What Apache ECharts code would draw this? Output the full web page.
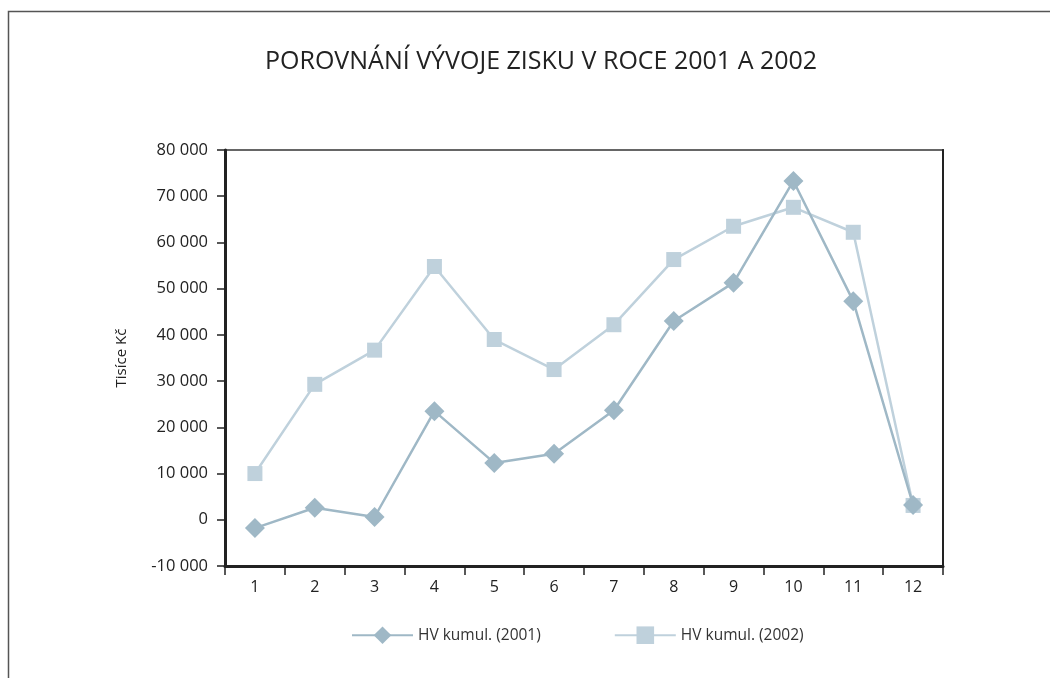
<!DOCTYPE html>
<html>
<head>
<meta charset="utf-8">
<script src="https://cdn.jsdelivr.net/npm/echarts@6/dist/echarts.min.js"></script>
<style>
  html, body { margin: 0; padding: 0; background: #fff; }
  #main { width: 1050px; height: 678px; }
</style>
</head>
<body>
<div id="main"></div>
<script>
// data
var months = ['1', '2', '3', '4', '5', '6', '7', '8', '9', '10', '11', '12'];
var hv2001 = [-1800, 2600, 600, 23500, 12300, 14300, 23700, 43000, 51300, 73300, 47300, 3200];
var hv2002 = [10000, 29300, 36700, 54800, 39000, 32500, 42200, 56300, 63500, 67600, 62200, 3100];
var yMin = -10000, yMax = 80000, yStep = 10000;

var font = '"Open Sans", Lato, sans-serif';

function fmt(v) {
  var s = String(Math.abs(v)).replace(/\B(?=(\d{3})+(?!\d))/g, ' ');
  return (v < 0 ? '-' : '') + s;
}

var chart = echarts.init(document.getElementById('main'));
var option = {
  backgroundColor: '#fff',
  animation: false,
  textStyle: { fontFamily: font },
  title: {
    text: 'POROVNÁNÍ VÝVOJE ZISKU V ROCE 2001 A 2002',
    left: 260,
    top: 44,
    textStyle: { fontFamily: font, fontSize: 25, fontWeight: 'normal', color: '#222' }
  },
  graphic: [{
    type: 'rect',
    shape: { x: 8.5, y: 11.5, width: 1100, height: 700 },
    style: { fill: null, stroke: '#555', lineWidth: 1.5 },
    silent: true
  }],
  legend: {
    bottom: 34,
    left: 351,
    padding: 0,
    itemWidth: 61,
    itemHeight: 22,
    itemGap: 73,
    textStyle: { fontFamily: font, fontSize: 15.5, color: '#333' },
    data: ['HV kumul. (2001)', 'HV kumul. (2002)']
  },
  grid: {
    left: 225, right: 107, top: 150, bottom: 112,
    show: true, borderColor: '#666', borderWidth: 2
  },
  xAxis: {
    type: 'category',
    data: months,
    boundaryGap: true,
    axisLine: { onZero: false, lineStyle: { color: '#222', width: 3 } },
    axisTick: { show: true, length: 9, alignWithLabel: false, lineStyle: { color: '#222', width: 1.5 } },
    axisLabel: { margin: 13, fontSize: 16, color: '#222', fontFamily: font },
    splitLine: { show: false }
  },
  yAxis: [{
    type: 'value',
    min: yMin, max: yMax, interval: yStep,
    name: 'Tisíce Kč',
    nameLocation: 'middle',
    nameGap: 96,
    nameTextStyle: { fontFamily: font, fontSize: 15, color: '#222' },
    axisLine: { show: true, lineStyle: { color: '#222', width: 3 } },
    axisTick: { show: true, length: 8, lineStyle: { color: '#222', width: 1.5 } },
    axisLabel: { margin: 17, fontSize: 16.5, color: '#222', fontFamily: font, formatter: fmt },
    splitLine: { show: false }
  }, {
    type: 'value',
    position: 'right',
    min: yMin, max: yMax, interval: yStep,
    axisLine: { show: true, lineStyle: { color: '#222', width: 2 } },
    axisTick: { show: false },
    axisLabel: { show: false },
    splitLine: { show: false }
  }],
  series: [{
    name: 'HV kumul. (2002)',
    type: 'line',
    data: hv2002,
    symbol: 'rect',
    symbolSize: 15,
    z: 2,
    lineStyle: { color: '#bfd1dc', width: 2.5 },
    itemStyle: { color: '#bfd1dc' }
  }, {
    name: 'HV kumul. (2001)',
    type: 'line',
    data: hv2001,
    symbol: 'diamond',
    symbolSize: 20,
    z: 3,
    lineStyle: { color: '#9fb8c6', width: 2.5 },
    itemStyle: { color: '#9fb8c6' }
  }]
};
chart.setOption(option);
</script>
</body>
</html>
